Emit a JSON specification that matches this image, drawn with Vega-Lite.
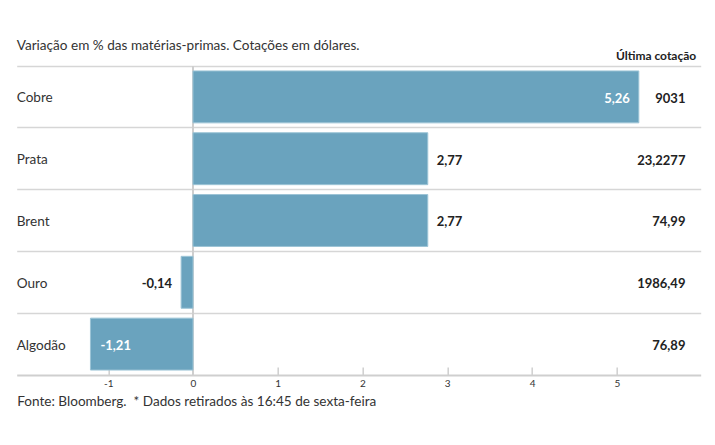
{
  "$schema": "https://vega.github.io/schema/vega-lite/v6.json",
  "width": 684,
  "height": 309,
  "autosize": "none",
  "padding": {"left": 16.7, "top": 66, "right": 15, "bottom": 70},
  "config": {
    "locale": {"number": {"decimal": ",", "thousands": ".", "grouping": [3], "currency": ["", ""], "minus": "-"}},
    "view": {"stroke": null},
    "font": "Lato",
    "text": {"font": "Lato"}
  },
  "title": {
    "text": "Variação em % das matérias-primas. Cotações em dólares.",
    "anchor": "start",
    "fontSize": 13.6,
    "fontWeight": "normal",
    "color": "#333",
    "offset": 14,
    "dy": 18
  },
  "data": {
    "values": [
      {"m": "Cobre", "v": 5.26, "c": "9031"},
      {"m": "Prata", "v": 2.77, "c": "23,2277"},
      {"m": "Brent", "v": 2.77, "c": "74,99"},
      {"m": "Ouro", "v": -0.14, "c": "1986,49"},
      {"m": "Algodão", "v": -1.21, "c": "76,89"}
    ]
  },
  "layer": [
    {
      "mark": {"type": "rule", "color": "#cfcfcf", "strokeWidth": 1.5},
      "encoding": {"x": {"datum": 0, "type": "quantitative", "scale": {"domain": [-2.08, 5.99], "nice": false, "zero": false}}}
    },
    {
      "mark": {"type": "bar", "height": {"band": 0.84}, "fill": "#6aa3be", "stroke": "#9cc4d6", "strokeWidth": 1},
      "encoding": {
        "x": {
          "field": "v", "type": "quantitative",
          "scale": {"domain": [-2.08, 5.99], "nice": false, "zero": false},
          "axis": {
            "values": [-1, 0, 1, 2, 3, 4, 5], "format": "d",
            "tickSize": -8, "tickColor": "#cfcfcf", "tickWidth": 1.5,
            "domainColor": "#cfcfcf", "domainWidth": 2, "grid": false,
            "labelFontSize": 10, "labelColor": "#333", "labelPadding": 12,
            "title": "Fonte: Bloomberg.\u00a0 * Dados retirados às 16:45 de sexta-feira",
            "titleAnchor": "start", "titleAlign": "left", "titleFontWeight": "normal",
            "titleFontSize": 13.6, "titleColor": "#333", "titlePadding": 6
          }
        },
        "y": {
          "field": "m", "type": "nominal", "sort": null,
          "scale": {"paddingInner": 0, "paddingOuter": 0},
          "axis": {
            "orient": "right", "labels": false, "ticks": false, "domain": false,
            "grid": true, "gridColor": "#d6d6d6", "gridWidth": 1.5, "bandPosition": 0,
            "title": "Última cotação", "titleAngle": 0, "titleAlign": "right",
            "titleBaseline": "alphabetic", "titleX": -5, "titleY": -7,
            "titleFontSize": 12, "titleFontWeight": "bold", "titleColor": "#222"
          }
        }
      }
    },
    {
      "mark": {"type": "text", "align": "left", "baseline": "middle", "dy": 1.5, "fontSize": 13.6, "color": "#333"},
      "encoding": {
        "x": {"datum": -2.08, "type": "quantitative"},
        "y": {"field": "m", "type": "nominal", "sort": null},
        "text": {"field": "m"}
      }
    },
    {
      "mark": {"type": "text", "align": "right", "baseline": "middle", "dy": 2, "fontSize": 13, "fontWeight": "bold", "color": "#222"},
      "encoding": {
        "x": {"datum": 5.81, "type": "quantitative"},
        "y": {"field": "m", "type": "nominal", "sort": null},
        "text": {"field": "c"}
      }
    },
    {
      "transform": [{"filter": "datum.v >= 3"}],
      "mark": {"type": "text", "align": "right", "baseline": "middle", "dx": -9, "dy": 2, "fontSize": 13, "fontWeight": "bold", "color": "#ffffff"},
      "encoding": {
        "x": {"field": "v", "type": "quantitative"},
        "y": {"field": "m", "type": "nominal", "sort": null},
        "text": {"field": "v", "format": ".2f"}
      }
    },
    {
      "transform": [{"filter": "datum.v >= 0 && datum.v < 3"}],
      "mark": {"type": "text", "align": "left", "baseline": "middle", "dx": 9, "dy": 2, "fontSize": 13, "fontWeight": "bold", "color": "#222"},
      "encoding": {
        "x": {"field": "v", "type": "quantitative"},
        "y": {"field": "m", "type": "nominal", "sort": null},
        "text": {"field": "v", "format": ".2f"}
      }
    },
    {
      "transform": [{"filter": "datum.v < 0 && datum.v > -1"}],
      "mark": {"type": "text", "align": "right", "baseline": "middle", "dx": -9, "dy": 2, "fontSize": 13, "fontWeight": "bold", "color": "#222"},
      "encoding": {
        "x": {"field": "v", "type": "quantitative"},
        "y": {"field": "m", "type": "nominal", "sort": null},
        "text": {"field": "v", "format": ".2f"}
      }
    },
    {
      "transform": [{"filter": "datum.v <= -1"}],
      "mark": {"type": "text", "align": "left", "baseline": "middle", "dx": 10, "dy": 2, "fontSize": 13, "fontWeight": "bold", "color": "#ffffff"},
      "encoding": {
        "x": {"field": "v", "type": "quantitative"},
        "y": {"field": "m", "type": "nominal", "sort": null},
        "text": {"field": "v", "format": ".2f"}
      }
    }
  ]
}
